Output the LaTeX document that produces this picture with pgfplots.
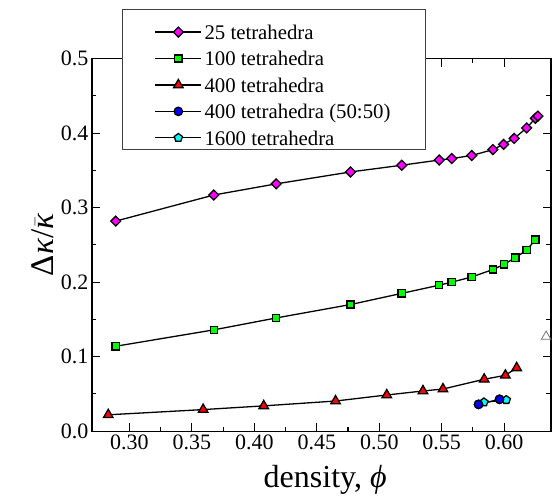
\documentclass[border=0pt]{standalone}
\usepackage{fontspec}
\setmainfont{Liberation Serif}
\usepackage{pgfplots}
\pgfplotsset{compat=1.18}
\definecolor{pmag}{RGB}{255,0,255}
\definecolor{pgreen}{RGB}{0,255,0}
\definecolor{pred}{RGB}{255,0,0}
\definecolor{pblue}{RGB}{0,0,255}
\definecolor{pcyan}{RGB}{0,255,255}

\begin{document}
\begin{tikzpicture}
\begin{axis}[
    scale only axis,
    width=459pt, height=372.5pt,
    xmin=0.27, xmax=0.6375,
    ymin=0, ymax=0.5,
    xtick={0.30,0.35,0.40,0.45,0.50,0.55,0.60},
    ytick={0,0.1,0.2,0.3,0.4,0.5},
    minor x tick num=1, minor y tick num=1,
    tick align=inside,
    major tick length=8pt, minor tick length=4.5pt,
    axis line style={line width=1.3pt},
    every tick/.style={black, line width=1.1pt},
    tick label style={font=\fontsize{22}{25}\selectfont},
    xticklabel={\pgfmathprintnumber[fixed,fixed zerofill,precision=2,assume math mode=true]{\tick}},
    yticklabel={\pgfmathprintnumber[fixed,fixed zerofill,precision=1,assume math mode=true]{\tick}},
    xlabel={density, \textit{ϕ}},
    ylabel={Δ\textit{κ}/$\bar{\mbox{\itshape κ}}$},
    xlabel style={font=\fontsize{32}{36}\selectfont, at={(axis description cs:0.508,-0.150)}, anchor=base},
    ylabel style={font=\fontsize{33}{38}\selectfont, at={(axis description cs:-0.107,0.5)}, anchor=center},
    legend style={name=leg, at={(0.0669,1.1021)}, anchor=north west,
      draw=none, fill=white,
      font=\fontsize{20.8}{24}\selectfont,
      inner xsep=31.8pt, inner ysep=4pt, row sep=12pt,
      nodes={inner xsep=2.5pt, inner ysep=0pt, text depth=0pt}},
    legend cell align=left,
    legend image code/.code={%
      \draw[mark repeat=2,mark phase=2,#1] plot coordinates {(0pt,0pt) (23pt,0pt) (46pt,0pt)};},
    every axis plot/.append style={black, line width=1.3pt,
      mark options={draw=black!80, line width=0.6pt}},
  ]
  \addplot[mark=square*, mark size=3.5pt, mark options={rotate=45, fill=pmag}] coordinates {
    (0.289,0.282) (0.3675,0.317) (0.4175,0.332) (0.477,0.348)
    (0.518,0.357) (0.548,0.364) (0.558,0.366) (0.574,0.370)
    (0.591,0.378) (0.5995,0.385) (0.608,0.393) (0.618,0.407)
    (0.625,0.420) (0.627,0.423)
  };
  \addlegendentry{25 tetrahedra}
  \addplot[mark=square*, mark size=3.6pt, mark options={fill=pgreen}] coordinates {
    (0.289,0.114) (0.3675,0.136) (0.4175,0.152) (0.477,0.170)
    (0.518,0.185) (0.548,0.196) (0.558,0.200) (0.574,0.207)
    (0.591,0.217) (0.600,0.224) (0.609,0.233) (0.618,0.243)
    (0.625,0.257)
  };
  \addlegendentry{100 tetrahedra}
  \addplot[mark=triangle*, mark size=5.5pt, mark options={fill=pred}] coordinates {
    (0.283,0.022) (0.359,0.029) (0.4075,0.034) (0.465,0.0405)
    (0.506,0.0486) (0.535,0.054) (0.551,0.0566) (0.584,0.0697)
    (0.601,0.075) (0.610,0.085)
  };
  \addlegendentry{400 tetrahedra}
  \addplot[mark=*, mark size=4.2pt, mark options={fill=pblue}] coordinates {
    (0.5795,0.036) (0.5963,0.0428)
  };
  \addlegendentry{400 tetrahedra (50:50)\hspace{-8pt}}
  \addplot[mark=pentagon*, mark size=4.3pt, mark options={fill=pcyan}] coordinates {
    (0.5838,0.0388) (0.6017,0.042)
  };
  \addlegendentry{1600 tetrahedra}
  % blue circles lie on top of the cyan pentagons
  \addplot[forget plot, only marks, mark=*, mark size=4.2pt, mark options={fill=pblue}] coordinates {
    (0.5795,0.036) (0.5963,0.0428)
  };
  % lone open triangle
  \addplot[forget plot, only marks, mark=triangle, mark size=5.5pt,
    mark options={draw=black!55, fill=white, line width=0.8pt}] coordinates {
    (0.6336,0.127)
  };
\end{axis}
% legend frame, with the extra room above the first entry
\fill[white] ([yshift=-1pt]leg.north west) rectangle ([yshift=11.7pt]leg.north east);
\draw[black!75, line width=0.8pt] (leg.south west) rectangle ([yshift=11.7pt]leg.north east);
\path (current axis.south west) +(-92pt,-63pt);
\path (current axis.north east) +(4pt,58.7pt);
\end{tikzpicture}
\end{document}
